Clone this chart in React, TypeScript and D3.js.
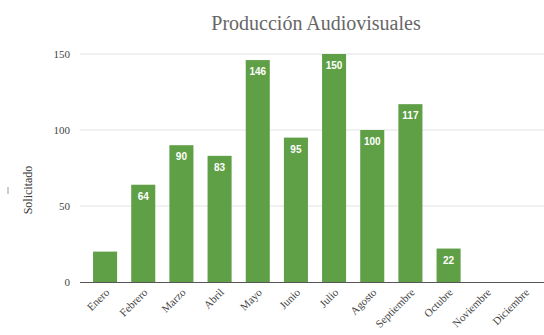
import React from "react";
import * as d3 from "d3";

const months = ["Enero","Febrero","Marzo","Abril","Mayo","Junio","Julio","Agosto","Septiembre","Octubre","Noviembre","Diciembre"];
const values = [20, 64, 90, 83, 146, 95, 150, 100, 117, 22, 0, 0];
const showLabel = [false, true, true, true, true, true, true, true, true, true, false, false];
const yTicks = [0, 50, 100, 150];

const W = 544, H = 335;
const serif = "'Liberation Serif', 'Times New Roman', serif";

export default function App() {
  const x = d3.scaleBand<string>().domain(months).range([86, 544]).paddingInner(0.37).paddingOuter(0.185);
  const y = d3.scaleLinear().domain([0, 150]).range([282, 54]);
  return (
    <svg width={W} height={H} style={{ position: "absolute", left: 0, top: 0, background: "#fff" }}>
      <text x={316} y={30} textAnchor="middle" fontFamily={serif} fontSize={20} fill="#666">Producción Audiovisuales</text>
      {yTicks.map(t => (
        <g key={t}>
          {t > 0 && <line x1={80} x2={544} y1={y(t)} y2={y(t)} stroke="#e2e2e2" strokeWidth={1} />}
          <text x={70} y={y(t) + 4} textAnchor="end" fontFamily={serif} fontSize={11} fill="#444">{t}</text>
        </g>
      ))}
      <text transform={`translate(32,190) rotate(-90)`} textAnchor="middle" fontFamily={serif} fontSize={12} fill="#333">Solicitado</text>
      <line x1={8} x2={8} y1={187} y2={194} stroke="#999" />
      {months.map((m, i) => (
        <g key={m}>
          {values[i] > 0 && (
            <rect x={x(m)} y={y(values[i])} width={x.bandwidth()} height={y(0) - y(values[i])} fill="#5f9f46" />
          )}
          {showLabel[i] && (
            <text x={(x(m) as number) + x.bandwidth() / 2} y={y(values[i]) + 15} textAnchor="middle"
              fontFamily="'Liberation Sans', Arial, sans-serif" fontWeight="bold" fontSize={10} fill="#fff">{values[i]}</text>
          )}
          <text transform={`translate(${(x(m) as number) + x.bandwidth() / 2 + 5},293) rotate(-45)`} textAnchor="end"
            fontFamily={serif} fontSize={11} fill="#444">{m}</text>
        </g>
      ))}
      <line x1={80} x2={544} y1={282.5} y2={282.5} stroke="#555" strokeWidth={1.2} />
    </svg>
  );
}
